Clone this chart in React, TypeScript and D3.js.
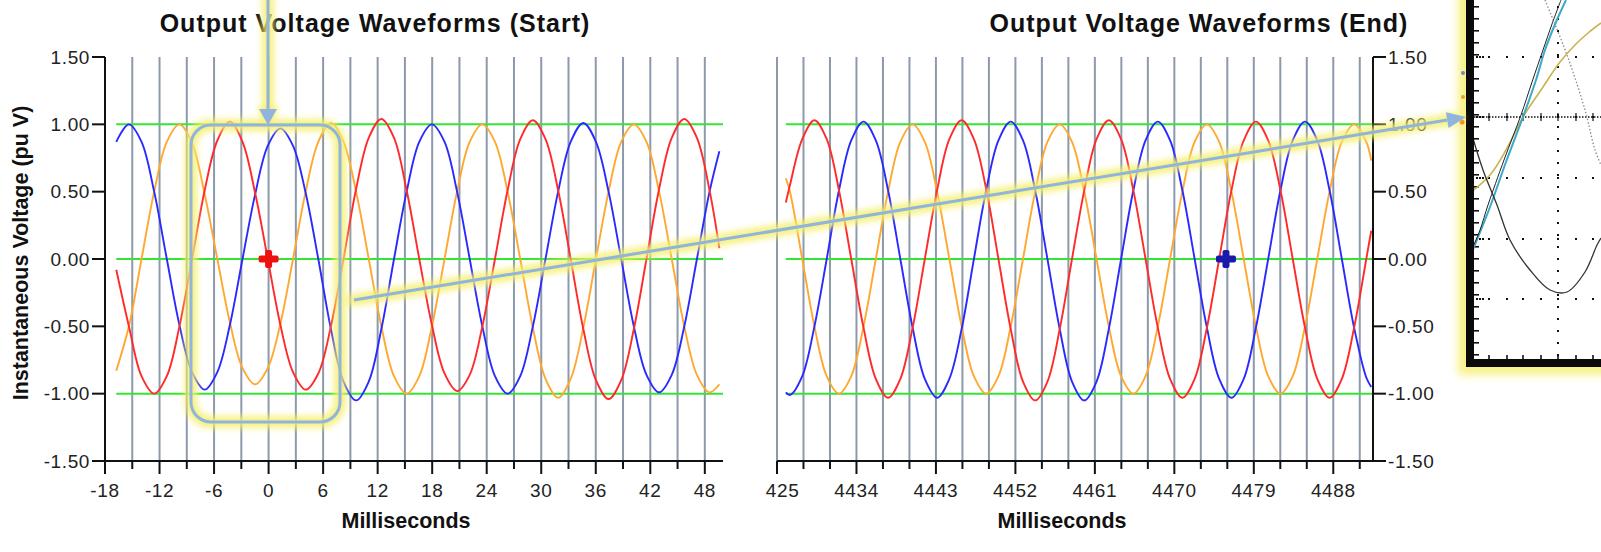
import React from 'react';
import * as d3 from 'd3';

// ---------- DATA ----------
const startTimes = [-16.76, -15.37, -13.98, -12.59, -11.2, -9.81, -8.42, -7.03, -5.64, -4.26, -2.87, -1.48, -0.09, 1.3, 2.69, 4.08, 5.47, 6.86, 8.24, 9.63, 11.02, 12.41, 13.8, 15.19, 16.58, 17.97, 19.36, 20.74, 22.13, 23.52, 24.91, 26.3, 27.69, 29.08, 30.47, 31.86, 33.24, 34.63, 36.02, 37.41, 38.8, 40.19, 41.58, 42.97, 44.36, 45.74, 47.13, 48.52, 49.6];
const startBlue = [0.87, 1.0, 0.87, 0.5, 0.0, -0.49, -0.84, -0.97, -0.84, -0.49, 0.0, 0.48, 0.84, 0.97, 0.84, 0.49, 0.0, -0.52, -0.91, -1.05, -0.91, -0.52, 0.0, 0.5, 0.87, 1.0, 0.87, 0.5, 0.0, -0.5, -0.87, -1.0, -0.87, -0.5, 0.0, 0.5, 0.87, 1.01, 0.87, 0.5, 0.0, -0.5, -0.86, -0.99, -0.86, -0.5, 0.0, 0.5, 0.8];
const startRed = [-0.08, -0.5, -0.87, -1.0, -0.87, -0.5, 0.0, 0.51, 0.88, 1.02, 0.87, 0.49, 0.0, -0.49, -0.84, -0.97, -0.85, -0.5, 0.0, 0.52, 0.9, 1.04, 0.9, 0.51, 0.0, -0.49, -0.85, -0.98, -0.86, -0.5, 0.0, 0.51, 0.89, 1.03, 0.89, 0.51, 0.0, -0.52, -0.9, -1.04, -0.9, -0.52, 0.0, 0.52, 0.9, 1.04, 0.9, 0.51, 0.08];
const startOrange = [-0.83, -0.5, 0.0, 0.5, 0.87, 1.0, 0.86, 0.48, 0.0, -0.47, -0.81, -0.93, -0.81, -0.48, 0.0, 0.5, 0.87, 1.01, 0.87, 0.5, 0.0, -0.5, -0.87, -1.0, -0.87, -0.5, 0.0, 0.5, 0.87, 1.0, 0.87, 0.5, 0.0, -0.51, -0.89, -1.03, -0.89, -0.51, 0.0, 0.5, 0.87, 1.0, 0.87, 0.5, 0.0, -0.5, -0.86, -0.99, -0.93];

const endTimes = [4426.0, 4426.47, 4427.86, 4429.24, 4430.63, 4432.02, 4433.41, 4434.8, 4436.19, 4437.58, 4438.97, 4440.36, 4441.74, 4443.13, 4444.52, 4445.91, 4447.3, 4448.69, 4450.08, 4451.47, 4452.86, 4454.24, 4455.63, 4457.02, 4458.41, 4459.8, 4461.19, 4462.58, 4463.97, 4465.36, 4466.74, 4468.13, 4469.52, 4470.91, 4472.3, 4473.69, 4475.08, 4476.47, 4477.86, 4479.24, 4480.63, 4482.02, 4483.41, 4484.8, 4486.19, 4487.58, 4488.97, 4490.36, 4491.74, 4492.3];
const endBlue = [-0.99, -1.01, -0.87, -0.5, 0.0, 0.51, 0.88, 1.02, 0.88, 0.51, 0.0, -0.51, -0.89, -1.03, -0.89, -0.52, 0.0, 0.51, 0.88, 1.02, 0.88, 0.51, 0.0, -0.52, -0.91, -1.05, -0.91, -0.52, 0.0, 0.51, 0.88, 1.02, 0.88, 0.51, 0.0, -0.51, -0.89, -1.03, -0.89, -0.51, 0.0, 0.51, 0.88, 1.02, 0.88, 0.51, 0.0, -0.51, -0.88, -0.95];
const endRed = [0.42, 0.55, 0.89, 1.03, 0.89, 0.51, 0.0, -0.51, -0.89, -1.03, -0.89, -0.51, 0.0, 0.51, 0.89, 1.03, 0.89, 0.52, 0.0, -0.52, -0.91, -1.05, -0.91, -0.52, 0.0, 0.51, 0.89, 1.03, 0.89, 0.51, 0.0, -0.51, -0.89, -1.03, -0.89, -0.51, 0.0, 0.51, 0.88, 1.02, 0.88, 0.51, 0.0, -0.51, -0.89, -1.03, -0.89, -0.51, 0.0, 0.21];
const endOrange = [0.6, 0.5, 0.0, -0.5, -0.87, -1.0, -0.87, -0.5, 0.0, 0.5, 0.87, 1.0, 0.87, 0.5, 0.0, -0.5, -0.87, -1.0, -0.87, -0.5, 0.0, 0.5, 0.87, 1.0, 0.87, 0.5, 0.0, -0.5, -0.87, -1.0, -0.87, -0.5, 0.0, 0.5, 0.87, 1.0, 0.87, 0.5, 0.0, -0.5, -0.87, -1.0, -0.87, -0.5, 0.0, 0.5, 0.87, 1.0, 0.87, 0.73];

const startTickLabels = [-18, -12, -6, 0, 6, 12, 18, 24, 30, 36, 42, 48];
const endTickLabels = [4425, 4434, 4443, 4452, 4461, 4470, 4479, 4488];
const yTickValues = [-1.5, -1.0, -0.5, 0.0, 0.5, 1.0, 1.5];
const referenceLevels = [-1, 0, 1];
const startMarker = [0, 0];
const endMarker = [4475.85, 0];
const titles = ['Output Voltage Waveforms (Start)', 'Output Voltage Waveforms (End)'];

// inset (scope screenshot) traces, local coords
const insetCyan = [[6, 252], [24, 207], [40, 162], [57, 117], [70, 80], [79, 50], [90, 22], [100, 0]];
const insetDark = [[6, 249], [14, 230], [22, 205], [38, 160], [55, 115], [66, 82], [77, 50], [86, 24], [95, 0]];
const insetKhaki = [[4, 193], [24, 175], [40, 150], [57, 117], [75, 90], [94, 62], [109, 45], [122, 33], [135, 23]];
const insetBlack = [[6, 135], [17, 170], [31, 205], [44, 240], [64, 270], [84, 290], [101, 292], [119, 272], [131, 245], [135, 238]];
const insetGray = [[79, 0], [101, 55], [119, 110], [129, 150], [135, 165]];

// ---------- COLORS ----------
const C_RED = '#ff2a2a';
const C_BLUE = '#2a2aff';
const C_ORANGE = '#ffa830';
const C_GREEN = '#33e633';
const C_GRID = '#8c9aab';
const C_ANN = '#8fb4dd';
const C_GLOW = '#f5ef6a';

const FONT = '"Liberation Sans", Arial, sans-serif';

export default function App() {
  const y = d3.scaleLinear().domain([-1.5, 1.5]).range([461, 57]);
  const xS = d3.scaleLinear().domain([-18, 50]).range([105, 723]);
  const xE = d3.scaleLinear().domain([4425, 4492.5]).range([777, 1373]);

  const mkLine = (xs: number[], x: d3.ScaleLinear<number, number>) => (vals: number[]) =>
    d3.line<number>()
      .x((_, i) => x(xs[i]))
      .y((v) => y(v))
      .curve(d3.curveCatmullRom.alpha(0.5))(vals) || '';

  const lineS = mkLine(startTimes, xS);
  const lineE = mkLine(endTimes, xE);

  const gridS = d3.range(-15, 50, 3);
  const gridE = d3.range(4425, 4492.5, 3);
  const minorS = d3.range(-18, 50, 3);
  const minorE = d3.range(4425, 4492.5, 3);

  const plus = (cx: number, cy: number, color: string) => (
    <g fill={color}>
      <rect x={cx - 10} y={cy - 3.5} width={20} height={7} rx={2} />
      <rect x={cx - 3.5} y={cy - 9} width={7} height={18} rx={2} />
    </g>
  );

  const ix = d3.scaleLinear().domain([0, 135]).range([1466, 1601]);
  const iy = d3.scaleLinear().domain([0, 367]).range([0, 367]);
  const insetLine = d3.line<number[]>().x((d) => ix(d[0])).y((d) => iy(d[1])).curve(d3.curveCatmullRom);

  // long arrow geometry
  const a0 = [354, 300];
  const a1 = [1466, 117];
  const dx = a1[0] - a0[0], dy = a1[1] - a0[1];
  const len = Math.hypot(dx, dy);
  const ux = dx / len, uy = dy / len;
  const hb = [a1[0] - 19 * ux, a1[1] - 19 * uy];
  const head = `M${a1[0]},${a1[1]} L${hb[0] - 8 * uy},${hb[1] + 8 * ux} L${hb[0] + 8 * uy},${hb[1] - 8 * ux} Z`;

  const insetRows = [57, 117, 178, 239, 299];
  const insetCols = [23, 41, 57, 75, 92, 110, 127];

  return (
    <svg width={1601} height={552} style={{ position: 'absolute', left: 0, top: 0, background: '#fff' }} fontFamily={FONT}>
      <defs>
        <filter id="glow" filterUnits="userSpaceOnUse" x={0} y={0} width={1601} height={552}>
          <feGaussianBlur stdDeviation={3} />
        </filter>
        <filter id="glow2" filterUnits="userSpaceOnUse" x={0} y={0} width={1601} height={552}>
          <feGaussianBlur stdDeviation={4} />
        </filter>
        <clipPath id="clipEndLabels">
          <rect x={766} y={470} width={700} height={40} />
        </clipPath>
      </defs>

      {/* titles */}
      <text x={375} y={32} textAnchor="middle" fontSize={25} fontWeight="bold" letterSpacing={1} fill="#111">{titles[0]}</text>
      <text x={1199} y={32} textAnchor="middle" fontSize={25} fontWeight="bold" letterSpacing={1} fill="#111">{titles[1]}</text>

      {/* vertical grid lines */}
      {gridS.map((t) => (
        <line key={'gs' + t} x1={xS(t)} x2={xS(t)} y1={y(1.5)} y2={y(-1.5)} stroke={C_GRID} strokeWidth={2} />
      ))}
      {gridE.map((t) => (
        <line key={'ge' + t} x1={xE(t)} x2={xE(t)} y1={y(1.5)} y2={y(-1.5)} stroke={C_GRID} strokeWidth={2} />
      ))}

      {/* reference levels */}
      {referenceLevels.map((v) => (
        <g key={'r' + v}>
          <line x1={xS(startTimes[0])} x2={xS(50)} y1={y(v)} y2={y(v)} stroke={C_GREEN} strokeWidth={2} />
          <line x1={xE(endTimes[0])} x2={xE(4492.5)} y1={y(v)} y2={y(v)} stroke={C_GREEN} strokeWidth={2} />
        </g>
      ))}

      {/* waveforms */}
      <g fill="none" strokeWidth={1.9} strokeLinejoin="round">
        <path d={lineS(startOrange)} stroke={C_ORANGE} />
        <path d={lineS(startBlue)} stroke={C_BLUE} />
        <path d={lineS(startRed)} stroke={C_RED} />
        <path d={lineE(endOrange)} stroke={C_ORANGE} />
        <path d={lineE(endBlue)} stroke={C_BLUE} />
        <path d={lineE(endRed)} stroke={C_RED} />
      </g>

      {/* left y axis */}
      <line x1={105} x2={105} y1={y(1.5)} y2={y(-1.5)} stroke="#111" strokeWidth={2} />
      {yTickValues.map((v) => (
        <g key={'yl' + v}>
          <line x1={92} x2={105} y1={y(v)} y2={y(v)} stroke="#111" strokeWidth={2} />
          <text x={90} y={y(v) + 6.5} textAnchor="end" fontSize={19} letterSpacing={0.6} fill="#222">{v.toFixed(2)}</text>
        </g>
      ))}
      <text transform={`translate(28,253) rotate(-90)`} textAnchor="middle" fontSize={21.5} fontWeight="bold" fill="#111">Instantaneous Voltage (pu V)</text>

      {/* left x axis */}
      <line x1={105} x2={723} y1={461} y2={461} stroke="#111" strokeWidth={2} />
      {minorS.map((t) => (
        <line key={'ms' + t} x1={xS(t)} x2={xS(t)} y1={461} y2={startTickLabels.includes(t) ? 474 : 469} stroke="#111" strokeWidth={2} />
      ))}
      {startTickLabels.map((t) => (
        <text key={'ls' + t} x={xS(t)} y={497} textAnchor="middle" fontSize={19} letterSpacing={0.6} fill="#222">{String(t)}</text>
      ))}
      <text x={406} y={528} textAnchor="middle" fontSize={21.5} fontWeight="bold" fill="#111">Milliseconds</text>

      {/* right chart x axis */}
      <line x1={777} x2={1373} y1={461} y2={461} stroke="#111" strokeWidth={2} />
      {minorE.map((t) => (
        <line key={'me' + t} x1={xE(t)} x2={xE(t)} y1={461} y2={endTickLabels.includes(t) ? 474 : 469} stroke="#111" strokeWidth={2} />
      ))}
      <g clipPath="url(#clipEndLabels)">
        {endTickLabels.map((t) => (
          <text key={'le' + t} x={xE(t)} y={497} textAnchor="middle" fontSize={19} letterSpacing={0.6} fill="#222">{String(t)}</text>
        ))}
      </g>
      <text x={1062} y={528} textAnchor="middle" fontSize={21.5} fontWeight="bold" fill="#111">Milliseconds</text>

      {/* right y axis */}
      <line x1={1373} x2={1373} y1={y(1.5)} y2={y(-1.5)} stroke="#111" strokeWidth={2} />
      {yTickValues.map((v) => (
        <g key={'yr' + v}>
          <line x1={1373} x2={1386} y1={y(v)} y2={y(v)} stroke="#111" strokeWidth={2} />
          <text x={1388} y={y(v) + 6.5} textAnchor="start" fontSize={19} letterSpacing={0.6} fill="#222">{v.toFixed(2)}</text>
        </g>
      ))}

      {/* markers */}
      {plus(xS(startMarker[0]), y(startMarker[1]), '#ee1111')}
      {plus(xE(endMarker[0]), y(endMarker[1]), '#1a1aaa')}

      {/* inset screenshot */}
      <g>
        <rect x={1458} y={-20} width={200} height={395} fill={C_GLOW} opacity={0.8} filter="url(#glow2)" />
        <rect x={1466} y={0} width={135} height={367} fill="#fff" />
        {insetRows.map((r) => (
          <g key={'ir' + r} fill="#111">
            {insetCols.map((c) => (
              <rect key={c} x={ix(c) - 1} y={iy(r) - 1} width={2} height={2} />
            ))}
            <rect x={ix(10)} y={iy(r) - 1} width={2} height={2} />
            <rect x={ix(13)} y={iy(r) - 1} width={2} height={2} />
            <rect x={ix(16)} y={iy(r) - 1} width={2} height={2} />
          </g>
        ))}
        {d3.range(8, 135, 3).map((u) => (
          <rect key={'cr' + u} x={ix(u)} y={iy(117) - 0.75} width={1.5} height={1.5} fill="#111" />
        ))}
        {insetCols.map((c) => (
          <line key={'ct' + c} x1={ix(c)} x2={ix(c)} y1={iy(113)} y2={iy(121)} stroke="#111" strokeWidth={1.2} />
        ))}
        {d3.range(6, 360, 12).map((v) => (
          <rect key={'cc' + v} x={ix(92) - 1} y={iy(v)} width={2} height={2} fill="#111" />
        ))}
        {d3.range(6, 358, 12).map((v) => (
          <rect key={'lt' + v} x={ix(8)} y={iy(v)} width={5} height={1.6} fill="#111" />
        ))}
        {insetCols.map((c) => (
          <rect key={'bt' + c} x={ix(c) - 0.8} y={iy(355)} width={1.6} height={4} fill="#111" />
        ))}
        <path d={insetLine(insetGray) || ''} fill="none" stroke="#8a8a8a" strokeWidth={1.3} strokeDasharray="1.5 2" />
        <path d={insetLine(insetKhaki) || ''} fill="none" stroke="#c8b350" strokeWidth={1.6} />
        <path d={insetLine(insetCyan) || ''} fill="none" stroke="#3ea8c8" strokeWidth={2} />
        <path d={insetLine(insetDark) || ''} fill="none" stroke="#222" strokeWidth={1} />
        <path d={insetLine(insetBlack) || ''} fill="none" stroke="#333" strokeWidth={1.3} />
        <rect x={1466} y={0} width={8} height={367} fill="#0a0a0a" />
        <rect x={1466} y={359} width={135} height={8} fill="#0a0a0a" />
        <circle cx={1463} cy={73} r={2} fill="#8080c8" />
        <circle cx={1463} cy={97} r={2} fill="#f0a020" />
        <circle cx={1462} cy={122} r={2.5} fill="#f08020" />
      </g>

      {/* annotations: glow layer */}
      <g fill="none" stroke={C_GLOW} strokeWidth={12} opacity={0.85} filter="url(#glow)" strokeLinecap="round">
        <line x1={268} x2={268} y1={0} y2={112} />
        <rect x={191} y={125} width={149} height={297} rx={20} />
        <line x1={a0[0]} y1={a0[1]} x2={hb[0]} y2={hb[1]} />
      </g>
      <g fill={C_GLOW} opacity={0.85} filter="url(#glow)">
        <path d="M257,107 L279,107 L268,128 Z" />
        <path d={head} />
      </g>
      {/* annotations: blue strokes */}
      <g fill="none" stroke={C_ANN} strokeWidth={3}>
        <line x1={268} x2={268} y1={0} y2={112} />
        <rect x={191} y={125} width={149} height={297} rx={20} />
        <line x1={a0[0]} y1={a0[1]} x2={hb[0]} y2={hb[1]} />
      </g>
      <g fill={C_ANN}>
        <path d="M259,109 L277,109 L268,125 Z" />
        <path d={head} />
      </g>
    </svg>
  );
}
